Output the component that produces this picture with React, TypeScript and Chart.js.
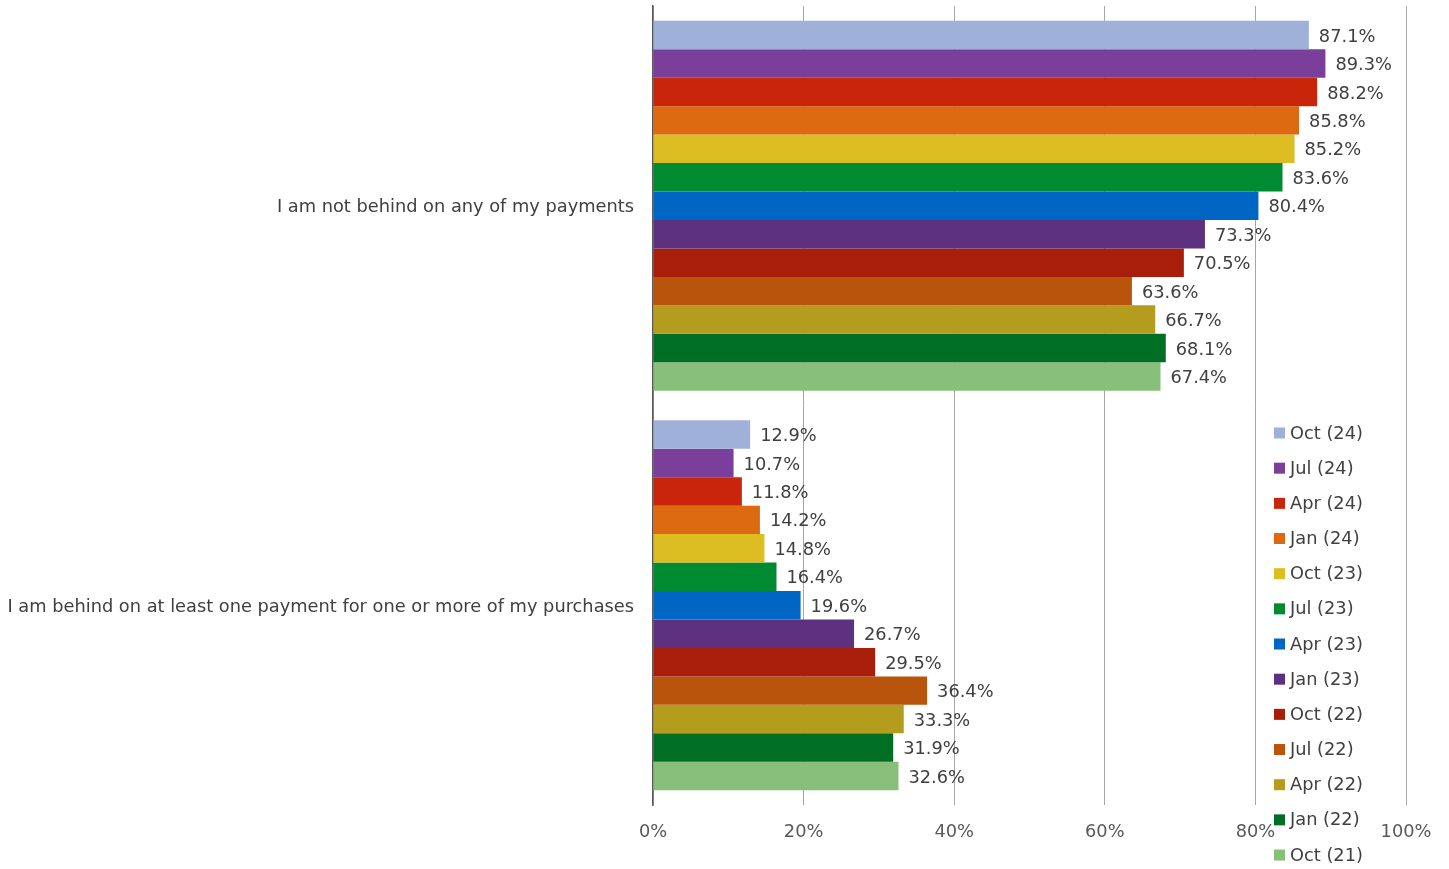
import React, { useEffect, useRef } from "react";
import { Chart, registerables } from "chart.js";

Chart.register(...registerables);

const categories = [
  "I am not behind on any of my payments",
  "I am behind on at least one payment for one or more of my purchases",
];
const seriesLabels = [
  "Oct (24)", "Jul (24)", "Apr (24)", "Jan (24)", "Oct (23)", "Jul (23)", "Apr (23)",
  "Jan (23)", "Oct (22)", "Jul (22)", "Apr (22)", "Jan (22)", "Oct (21)",
];
const notBehind = [87.1, 89.3, 88.2, 85.8, 85.2, 83.6, 80.4, 73.3, 70.5, 63.6, 66.7, 68.1, 67.4];
const behind = [12.9, 10.7, 11.8, 14.2, 14.8, 16.4, 19.6, 26.7, 29.5, 36.4, 33.3, 31.9, 32.6];
const seriesColors = [
  "#A0B1D9", "#793F9B", "#C8250A", "#DD6A10", "#DCBE22", "#008A32", "#0066C4",
  "#5E3180", "#A81E0A", "#B8540C", "#B49C1C", "#006E24", "#88BF7A",
];
const xTicks = [0, 20, 40, 60, 80, 100];

const FONT = "'DejaVu Sans', sans-serif";
const FS = 17.8;
const TEXT = "#404040";

const labelPlugin = {
  id: "valueLabels",
  afterDatasetsDraw(chart: any) {
    const ctx = chart.ctx;
    ctx.save();
    ctx.font = `${FS}px ${FONT}`;
    ctx.fillStyle = TEXT;
    ctx.textAlign = "left";
    ctx.textBaseline = "middle";
    chart.data.datasets.forEach((ds: any, i: number) => {
      const meta = chart.getDatasetMeta(i);
      meta.data.forEach((bar: any, j: number) => {
        ctx.fillText(ds.data[j].toFixed(1) + "%", bar.x + 10, bar.y + 2);
      });
    });
    ctx.restore();
  },
};

const legendPlugin = {
  id: "customLegend",
  afterDraw(chart: any) {
    const ctx = chart.ctx;
    ctx.save();
    ctx.font = `${FS}px ${FONT}`;
    ctx.textAlign = "left";
    ctx.textBaseline = "middle";
    const x = 1274;
    const y0 = 433;
    const step = 35.17;
    seriesLabels.forEach((lab, i) => {
      const y = y0 + i * step;
      ctx.fillStyle = seriesColors[i];
      ctx.fillRect(x, y - 5.5, 11, 11);
      ctx.fillStyle = TEXT;
      ctx.fillText(lab, x + 16, y + 1);
    });
    ctx.restore();
  },
};

export default function App() {
  const ref = useRef<HTMLCanvasElement>(null);
  useEffect(() => {
    document.body.style.margin = "0";
    const chart = new Chart(ref.current as HTMLCanvasElement, {
      type: "bar",
      data: {
        labels: categories,
        datasets: seriesLabels.map((lab, i) => ({
          label: lab,
          data: [notBehind[i], behind[i]],
          backgroundColor: seriesColors[i],
          borderWidth: 0,
          categoryPercentage: 0.926,
          barPercentage: 1,
        })),
      },
      options: {
        indexAxis: "y",
        animation: false,
        responsive: false,
        layout: { padding: { top: 6, right: 43, bottom: 0, left: 0 } },
        plugins: { legend: { display: false }, tooltip: { enabled: false } },
        scales: {
          x: {
            min: 0,
            max: 100,
            afterBuildTicks: (scale: any) => {
              scale.ticks = xTicks.map((v) => ({ value: v }));
            },
            afterFit: (scale: any) => {
              scale.height = 64;
              scale.paddingLeft = 0;
              scale.paddingRight = 0;
            },
            grid: { color: "#A6A6A6", lineWidth: 1, drawTicks: false },
            border: { display: false },
            ticks: {
              padding: 17,
              color: "#595959",
              font: { family: FONT, size: FS },
              callback: (v: any) => v + "%",
            },
          },
          y: {
            afterFit: (scale: any) => {
              scale.width = 653;
              scale.paddingTop = 0;
              scale.paddingBottom = 0;
            },
            grid: { display: false, drawTicks: false },
            border: { display: true, color: "#595959", width: 1.5 },
            ticks: {
              padding: 19,
              labelOffset: 2,
              color: TEXT,
              font: { family: FONT, size: FS },
            },
          },
        },
      },
      plugins: [labelPlugin, legendPlugin],
    } as any);
    return () => chart.destroy();
  }, []);
  return <canvas ref={ref} width={1449} height={869} style={{ display: "block" }} />;
}
